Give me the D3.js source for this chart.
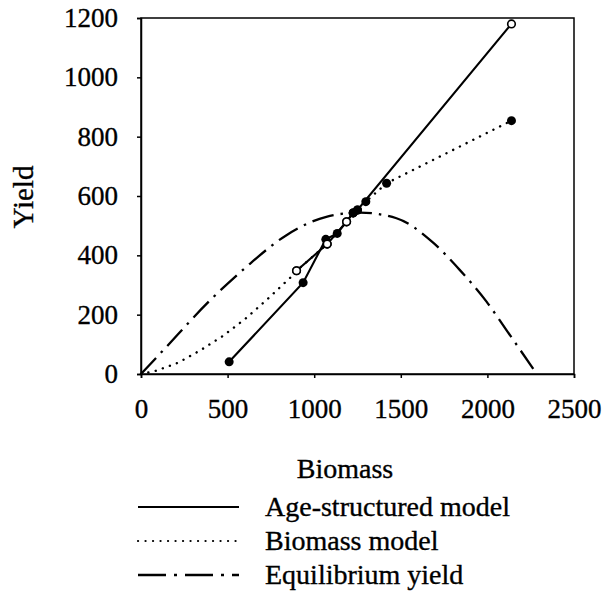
<!DOCTYPE html>
<html>
<head>
<meta charset="utf-8">
<script src="https://cdn.jsdelivr.net/npm/d3@7"></script>
<style>
  html, body { margin: 0; padding: 0; background: #fff; }
  svg { display: block; }
  svg text { font-family: "Liberation Serif", "Times New Roman", serif !important; fill: #000; stroke: #000; stroke-width: 0.35px; }
</style>
</head>
<body>
<svg id="chart" width="605" height="593"></svg>
<script>
// Axis ticks
const xTicks = [0, 500, 1000, 1500, 2000, 2500];
const yTicks = [0, 200, 400, 600, 800, 1000, 1200];

// Age-structured model: main trajectory (solid line)
const ageBiomass = [509, 936, 1067, 1133, 1225, 1250, 2139];
const ageYield   = [41, 308, 454, 474, 543, 553, 1180];
const ageOpen    = [false, false, false, false, false, false, true];

// Age-structured model: second branch (solid line)
const ageBranchBiomass = [898, 1075, 1187, 1225];
const ageBranchYield   = [348, 438, 513, 543];
const ageBranchOpen    = [true, true, true, false];

// Biomass model trajectory (dotted line)
const bioBiomass = [0, 87, 215, 346, 475, 606, 735, 864, 898, 1075, 1187, 1225, 1250, 1298, 1418, 2139];
const bioYield   = [0, 11, 38, 81, 129, 188, 255, 326, 348, 438, 513, 543, 553, 581, 643, 854];
const bioMarker  = [null, null, null, null, null, null, null, null, "open", "open", "open", "filled", "filled", "filled", "filled", "filled"];

// Equilibrium yield curve (dash-dot line)
const eqBiomass = [0, 130, 400, 610, 840, 1070, 1265, 1475, 1690, 1840, 1995, 2110, 2285];
const eqYield   = [0, 81, 249, 362, 468, 530, 544, 525, 441, 351, 244, 148, 0];

const legendLabels = ["Age-structured model", "Biomass model", "Equilibrium yield"];

const FONT = "'Liberation Serif', 'Times New Roman', serif";
const svg = d3.select("#chart");
const x = d3.scaleLinear().domain([0, 2500]).range([141, 574]);
const y = d3.scaleLinear().domain([0, 1200]).range([374, 18]);

const DOT = "0.1,7.4";
const DASHDOT = "22,7,2.5,7";

// Frame
svg.append("rect")
  .attr("x", x(0)).attr("y", y(1200))
  .attr("width", x(2500) - x(0)).attr("height", y(0) - y(1200))
  .attr("fill", "none").attr("stroke", "#000").attr("stroke-width", 1.5);

// Axes
const xAxis = svg.append("g")
  .attr("transform", `translate(0,${y(0)})`)
  .call(d3.axisBottom(x).tickValues(xTicks).tickFormat(d3.format("d")).tickSize(4).tickPadding(21));
const yAxis = svg.append("g")
  .attr("transform", `translate(${x(0)},0)`)
  .call(d3.axisLeft(y).tickValues(yTicks).tickFormat(d3.format("d")).tickSize(4).tickPadding(19));
[xAxis, yAxis].forEach(g => {
  g.attr("font-family", null).attr("font-size", null);
  g.select(".domain").attr("stroke", "#000").attr("stroke-width", 1.5);
  g.selectAll(".tick line").attr("stroke", "#000").attr("stroke-width", 1.5);
  g.selectAll(".tick text").style("font-family", FONT).style("font-size", "27px").attr("fill", "#000");
});

// Axis titles
svg.append("text")
  .attr("x", 345).attr("y", 478)
  .attr("text-anchor", "middle")
  .style("font-family", FONT).style("font-size", "28px")
  .text("Biomass");
svg.append("text")
  .attr("transform", "translate(33,197) rotate(-90)")
  .attr("text-anchor", "middle")
  .style("font-family", FONT).style("font-size", "29px")
  .text("Yield");

const pts = (bs, ys) => bs.map((b, i) => [b, ys[i]]);
const lineLin = d3.line().x(d => x(d[0])).y(d => y(d[1]));
const lineSmooth = d3.line().x(d => x(d[0])).y(d => y(d[1])).curve(d3.curveMonotoneX);

// Equilibrium yield
svg.append("path")
  .attr("d", lineSmooth(pts(eqBiomass, eqYield)))
  .attr("fill", "none").attr("stroke", "#000").attr("stroke-width", 2.3)
  .attr("stroke-dasharray", DASHDOT);

// Biomass model
svg.append("path")
  .attr("d", lineLin(pts(bioBiomass, bioYield)))
  .attr("fill", "none").attr("stroke", "#000").attr("stroke-width", 2.4)
  .attr("stroke-linecap", "round")
  .attr("stroke-dasharray", DOT);

// Age-structured model
[[ageBiomass, ageYield], [ageBranchBiomass, ageBranchYield]].forEach(([bs, ys]) => {
  svg.append("path")
    .attr("d", lineLin(pts(bs, ys)))
    .attr("fill", "none").attr("stroke", "#000").attr("stroke-width", 2.1);
});

// Markers
function drawMarkers(bs, ys, kinds) {
  bs.forEach((b, i) => {
    const k = kinds[i];
    if (!k) return;
    const c = svg.append("circle").attr("cx", x(b)).attr("cy", y(ys[i]));
    if (k === "open") {
      c.attr("r", 3.8).attr("fill", "#fff").attr("stroke", "#000").attr("stroke-width", 1.6);
    } else {
      c.attr("r", 4.5).attr("fill", "#000");
    }
  });
}
drawMarkers(bioBiomass, bioYield, bioMarker);
drawMarkers(ageBiomass, ageYield, ageOpen.map(o => o ? "open" : "filled"));
drawMarkers(ageBranchBiomass, ageBranchYield, ageBranchOpen.map(o => o ? "open" : "filled"));

// Legend
const legendStyles = [
  { dash: null, width: 2, cap: "butt" },
  { dash: DOT, width: 2.2, cap: "round" },
  { dash: "28,8,3,8", width: 2.5, cap: "butt" }
];
const legend = svg.append("g");
legendLabels.forEach((label, i) => {
  const ly = 507 + i * 34;
  const ln = legend.append("line")
    .attr("x1", 138).attr("x2", 239).attr("y1", ly).attr("y2", ly)
    .attr("stroke", "#000").attr("stroke-width", legendStyles[i].width)
    .attr("stroke-linecap", legendStyles[i].cap);
  if (legendStyles[i].dash) ln.attr("stroke-dasharray", legendStyles[i].dash);
  legend.append("text")
    .attr("x", 265).attr("y", ly + 9)
    .style("font-family", FONT).style("font-size", "28px")
    .text(label);
});
</script>
</body>
</html>
